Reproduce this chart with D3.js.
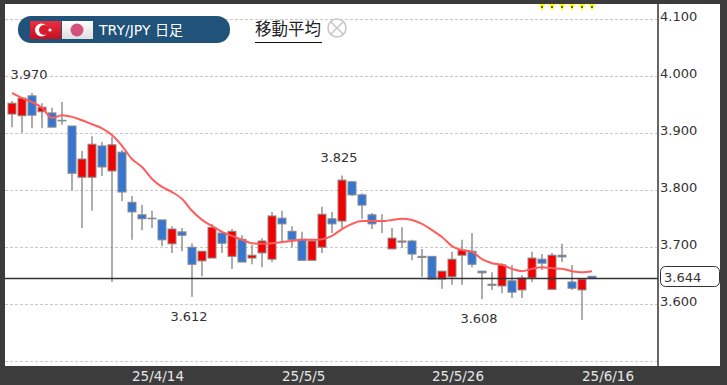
<!DOCTYPE html>
<html>
<head>
<meta charset="utf-8">
<script src="https://cdn.jsdelivr.net/npm/d3@7"></script>
<style>
  html, body { margin: 0; padding: 0; background: #3c3c3c; overflow: hidden; }
  svg { display: block; }
  text { font-family: "DejaVu Sans", "Noto Sans CJK JP", sans-serif; }
</style>
</head>
<body>
<div id="chart"></div>
<script>
// daily bars, the last category has no bar (only the date tick)
const categories = [
  "25/3/25","25/3/26","25/3/27","25/3/28","25/3/31","25/4/1","25/4/2","25/4/3","25/4/4","25/4/7",
  "25/4/8","25/4/9","25/4/10","25/4/11","25/4/14","25/4/15","25/4/16","25/4/17","25/4/18","25/4/21",
  "25/4/22","25/4/23","25/4/24","25/4/25","25/4/28","25/4/29","25/4/30","25/5/1","25/5/2","25/5/5",
  "25/5/6","25/5/7","25/5/8","25/5/9","25/5/12","25/5/13","25/5/14","25/5/15","25/5/16","25/5/19",
  "25/5/20","25/5/21","25/5/22","25/5/23","25/5/26","25/5/27","25/5/28","25/5/29","25/5/30","25/6/2",
  "25/6/3","25/6/4","25/6/5","25/6/6","25/6/9","25/6/10","25/6/11","25/6/12","25/6/13","25/6/16"
];
const opens = [
  3.933,3.930,3.965,3.937,3.935,3.922,3.912,3.822,3.822,3.877,
  3.833,3.866,3.778,3.756,3.750,3.747,3.705,3.726,3.699,3.675,
  3.680,3.724,3.683,3.713,3.680,3.689,3.678,3.750,3.727,3.713,
  3.676,3.699,3.749,3.745,3.814,3.791,3.756,3.745,3.696,3.708,
  3.710,3.683,3.683,3.643,3.647,3.685,3.692,3.657,3.634,3.631,
  3.640,3.624,3.645,3.678,3.625,3.685,3.638,3.624,3.648
];
const highs = [
  3.956,3.963,3.970,3.952,3.944,3.954,3.912,3.868,3.894,3.884,
  3.893,3.870,3.789,3.773,3.763,3.747,3.736,3.733,3.706,3.692,
  3.740,3.727,3.731,3.720,3.703,3.715,3.761,3.763,3.736,3.726,
  3.713,3.770,3.761,3.825,3.815,3.794,3.759,3.757,3.733,3.734,
  3.712,3.696,3.683,3.657,3.691,3.712,3.724,3.657,3.655,3.671,
  3.668,3.650,3.691,3.687,3.689,3.705,3.668,3.643,3.648
];
const lows = [
  3.910,3.900,3.908,3.908,3.910,3.914,3.799,3.733,3.763,3.824,
  3.638,3.780,3.712,3.729,3.733,3.701,3.689,3.692,3.612,3.648,
  3.680,3.689,3.661,3.673,3.669,3.664,3.673,3.706,3.699,3.676,
  3.676,3.689,3.724,3.733,3.789,3.749,3.731,3.724,3.696,3.698,
  3.676,3.647,3.643,3.626,3.633,3.633,3.664,3.608,3.624,3.618,
  3.610,3.610,3.638,3.659,3.625,3.673,3.624,3.571,3.644
];
const closes = [
  3.952,3.961,3.931,3.945,3.910,3.921,3.829,3.854,3.880,3.840,
  3.879,3.796,3.761,3.749,3.749,3.712,3.731,3.720,3.669,3.692,
  3.734,3.706,3.727,3.673,3.685,3.710,3.754,3.740,3.712,3.676,
  3.710,3.757,3.740,3.817,3.791,3.773,3.740,3.744,3.715,3.710,
  3.687,3.681,3.643,3.657,3.678,3.694,3.669,3.654,3.632,3.668,
  3.620,3.645,3.680,3.671,3.685,3.682,3.627,3.643,3.644
];
const movingAverage = [
  3.970,3.961,3.954,3.944,3.926,3.931,3.928,3.922,3.915,3.908,
  3.896,3.877,3.854,3.840,3.819,3.805,3.796,3.784,3.763,3.747,
  3.736,3.726,3.719,3.712,3.706,3.705,3.706,3.708,3.710,3.712,
  3.712,3.713,3.719,3.731,3.740,3.745,3.745,3.745,3.747,3.749,
  3.747,3.740,3.729,3.717,3.701,3.694,3.691,3.678,3.671,3.668,
  3.661,3.657,3.661,3.664,3.662,3.661,3.657,3.655,3.657
];
const priceTicks = [4.1, 4.0, 3.9, 3.8, 3.7, 3.6, 3.5];
const labelledPriceTicks = [4.1, 4.0, 3.9, 3.8, 3.7, 3.6];
const dateTicks = ["25/4/14", "25/5/5", "25/5/26", "25/6/16"];
const lastPrice = 3.644;
const highLabels = [{i: 2, value: 3.970}, {i: 33, value: 3.825}];
const lowLabels = [{i: 18, value: 3.612}, {i: 47, value: 3.608}];
const markerBars = [53, 54, 55, 56, 57, 58];

const width = 727, height = 385;
const plot = {left: 5, right: 658, top: 4, bottom: 366, outer: 720};

const svg = d3.select("#chart").append("svg")
  .attr("width", width)
  .attr("height", height);

const defs = svg.append("defs");
const redGrad = defs.append("linearGradient").attr("id", "flagRed").attr("x2", 0).attr("y2", 1);
redGrad.append("stop").attr("offset", 0).attr("stop-color", "#e8303f");
redGrad.append("stop").attr("offset", 1).attr("stop-color", "#c80f20");
const whiteGrad = defs.append("linearGradient").attr("id", "flagWhite").attr("x2", 0).attr("y2", 1);
whiteGrad.append("stop").attr("offset", 0).attr("stop-color", "#ffffff");
whiteGrad.append("stop").attr("offset", 1).attr("stop-color", "#dddddd");

// dark frame with the white plotting area
svg.append("rect")
  .attr("width", width).attr("height", height).attr("fill", "#3c3c3c");
svg.append("rect")
  .attr("x", plot.left).attr("y", plot.top)
  .attr("width", plot.outer - plot.left).attr("height", plot.bottom - plot.top)
  .attr("fill", "#fff");

const x = d3.scalePoint().domain(categories).range([12, 602]);
const y = d3.scaleLinear().domain([3.5, 4.1]).range([360.5, 19]);

// dashed grid
svg.selectAll("line.grid")
  .data(priceTicks)
  .enter()
  .append("line")
  .attr("class", "grid")
  .attr("x1", plot.left).attr("x2", plot.right)
  .attr("y1", d => Math.round(y(d)) + 0.5).attr("y2", d => Math.round(y(d)) + 0.5)
  .attr("stroke", "#c8c8c8")
  .attr("stroke-dasharray", "3 2");

// price axis
const yAxis = svg.append("g")
  .attr("transform", "translate(" + plot.right + ",0)")
  .call(d3.axisRight(y).tickValues(labelledPriceTicks).tickSize(0).tickPadding(2)
    .tickFormat(d3.format(".3f")));
yAxis.select(".domain").remove();
yAxis.selectAll("text")
  .attr("dy", "0.12em")
  .attr("font-size", "13px")
  .attr("fill", "#333")
  .style("font-family", "'DejaVu Sans'");

svg.append("line")
  .attr("x1", plot.right).attr("x2", plot.right)
  .attr("y1", plot.top).attr("y2", plot.bottom)
  .attr("stroke", "#666")
  .attr("stroke-width", 2);

// date axis
const xAxis = svg.append("g")
  .attr("transform", "translate(0," + plot.bottom + ")")
  .call(d3.axisBottom(x).tickValues(dateTicks).tickSize(0).tickPadding(5));
xAxis.select(".domain").remove();
xAxis.selectAll("text")
  .attr("text-anchor", "start")
  .attr("dx", -20.5)
  .attr("font-size", "13.5px")
  .attr("fill", "#e6e6e6")
  .style("font-family", "'DejaVu Sans'");

// wicks
const bars = d3.range(closes.length);
svg.selectAll("line.wick")
  .data(bars)
  .enter()
  .append("line")
  .attr("class", "wick")
  .attr("x1", i => x(categories[i])).attr("x2", i => x(categories[i]))
  .attr("y1", i => y(highs[i])).attr("y2", i => y(lows[i]))
  .attr("stroke", "#8a8a8a")
  .attr("stroke-width", 1.4);

// bodies, red = up, blue = down
svg.selectAll("rect.body")
  .data(bars)
  .enter()
  .append("rect")
  .attr("class", "body")
  .attr("x", i => x(categories[i]) - 4)
  .attr("y", i => y(Math.max(opens[i], closes[i])))
  .attr("width", 8)
  .attr("height", i => Math.abs(y(opens[i]) - y(closes[i])))
  .attr("fill", i => closes[i] > opens[i] ? "#f50000" : "#3676d2")
  .attr("stroke", "#8a8a8a")
  .attr("stroke-width", 1);

// last price line runs over the bodies
svg.append("line")
  .attr("x1", plot.left).attr("x2", plot.right)
  .attr("y1", y(lastPrice)).attr("y2", y(lastPrice))
  .attr("stroke", "#333")
  .attr("stroke-width", 1.5);

// moving average
const maLine = d3.line()
  .x((d, i) => x(categories[i]))
  .y(d => y(d))
  .curve(d3.curveMonotoneX);
svg.append("path")
  .datum(movingAverage)
  .attr("d", maLine)
  .attr("fill", "none")
  .attr("stroke", "#ff5c5c")
  .attr("stroke-width", 2);

// period high / low labels
svg.selectAll("text.high")
  .data(highLabels)
  .enter()
  .append("text")
  .attr("class", "high")
  .attr("x", d => x(categories[d.i]) - 3)
  .attr("y", d => y(d.value) - 14)
  .attr("text-anchor", "middle")
  .attr("font-size", "13px")
  .attr("fill", "#333")
  .text(d => d.value.toFixed(3));
svg.selectAll("text.low")
  .data(lowLabels)
  .enter()
  .append("text")
  .attr("class", "low")
  .attr("x", d => x(categories[d.i]) - 3)
  .attr("y", d => y(d.value) + 24)
  .attr("text-anchor", "middle")
  .attr("font-size", "13px")
  .attr("fill", "#333")
  .text(d => d.value.toFixed(3));

// last price box
svg.append("rect")
  .attr("x", 660.5).attr("y", 266.5)
  .attr("width", 59).attr("height", 20)
  .attr("rx", 5)
  .attr("fill", "#fff")
  .attr("stroke", "#333");
svg.append("text")
  .attr("x", 664).attr("y", 281.5)
  .attr("font-size", "13px")
  .attr("fill", "#333")
  .text(lastPrice.toFixed(3));

// yellow markers along the top edge
const markers = svg.selectAll("g.marker")
  .data(markerBars)
  .enter()
  .append("g")
  .attr("class", "marker")
  .attr("transform", i => "translate(" + x(categories[i]) + ",7)");
markers.append("path")
  .attr("d", "M-3,-3L3,-3L0,4Z")
  .attr("fill", "#ffff00");
markers.append("circle")
  .attr("r", 1)
  .attr("fill", "#333");

// title pill
svg.append("rect")
  .attr("x", 18).attr("y", 16)
  .attr("width", 212).attr("height", 27)
  .attr("rx", 13)
  .attr("fill", "#20527a");
svg.append("rect")
  .attr("x", 30).attr("y", 21).attr("width", 31).attr("height", 18)
  .attr("fill", "url(#flagRed)");
svg.append("circle")
  .attr("cx", 41.5).attr("cy", 30).attr("r", 6.5).attr("fill", "#fff");
svg.append("circle")
  .attr("cx", 44).attr("cy", 30).attr("r", 5).attr("fill", "#d81c2e");
svg.append("circle")
  .attr("cx", 50).attr("cy", 30).attr("r", 1.6).attr("fill", "#fff");
svg.append("rect")
  .attr("x", 62).attr("y", 21).attr("width", 31).attr("height", 18)
  .attr("fill", "url(#flagWhite)");
svg.append("circle")
  .attr("cx", 77).attr("cy", 30).attr("r", 6.5).attr("fill", "#d2527c");
svg.append("text")
  .attr("x", 99).attr("y", 34.5)
  .attr("font-size", "14px")
  .attr("fill", "#fff")
  .text("TRY/JPY 日足");

// moving average toggle
svg.append("text")
  .attr("x", 255).attr("y", 34.5)
  .attr("font-size", "16.5px")
  .attr("fill", "#222")
  .style("font-family", "'Noto Sans CJK JP'")
  .text("移動平均");
svg.append("line")
  .attr("x1", 255).attr("x2", 322)
  .attr("y1", 42.5).attr("y2", 42.5)
  .attr("stroke", "#111");
const closeIcon = svg.append("g")
  .attr("transform", "translate(337,28)")
  .attr("stroke", "#c8c8c8")
  .attr("fill", "none");
closeIcon.append("circle").attr("r", 9).attr("stroke-width", 1.6);
closeIcon.append("path").attr("d", "M-6,-6L6,6M-6,6L6,-6").attr("stroke-width", 1.6);
</script>
</body>
</html>
